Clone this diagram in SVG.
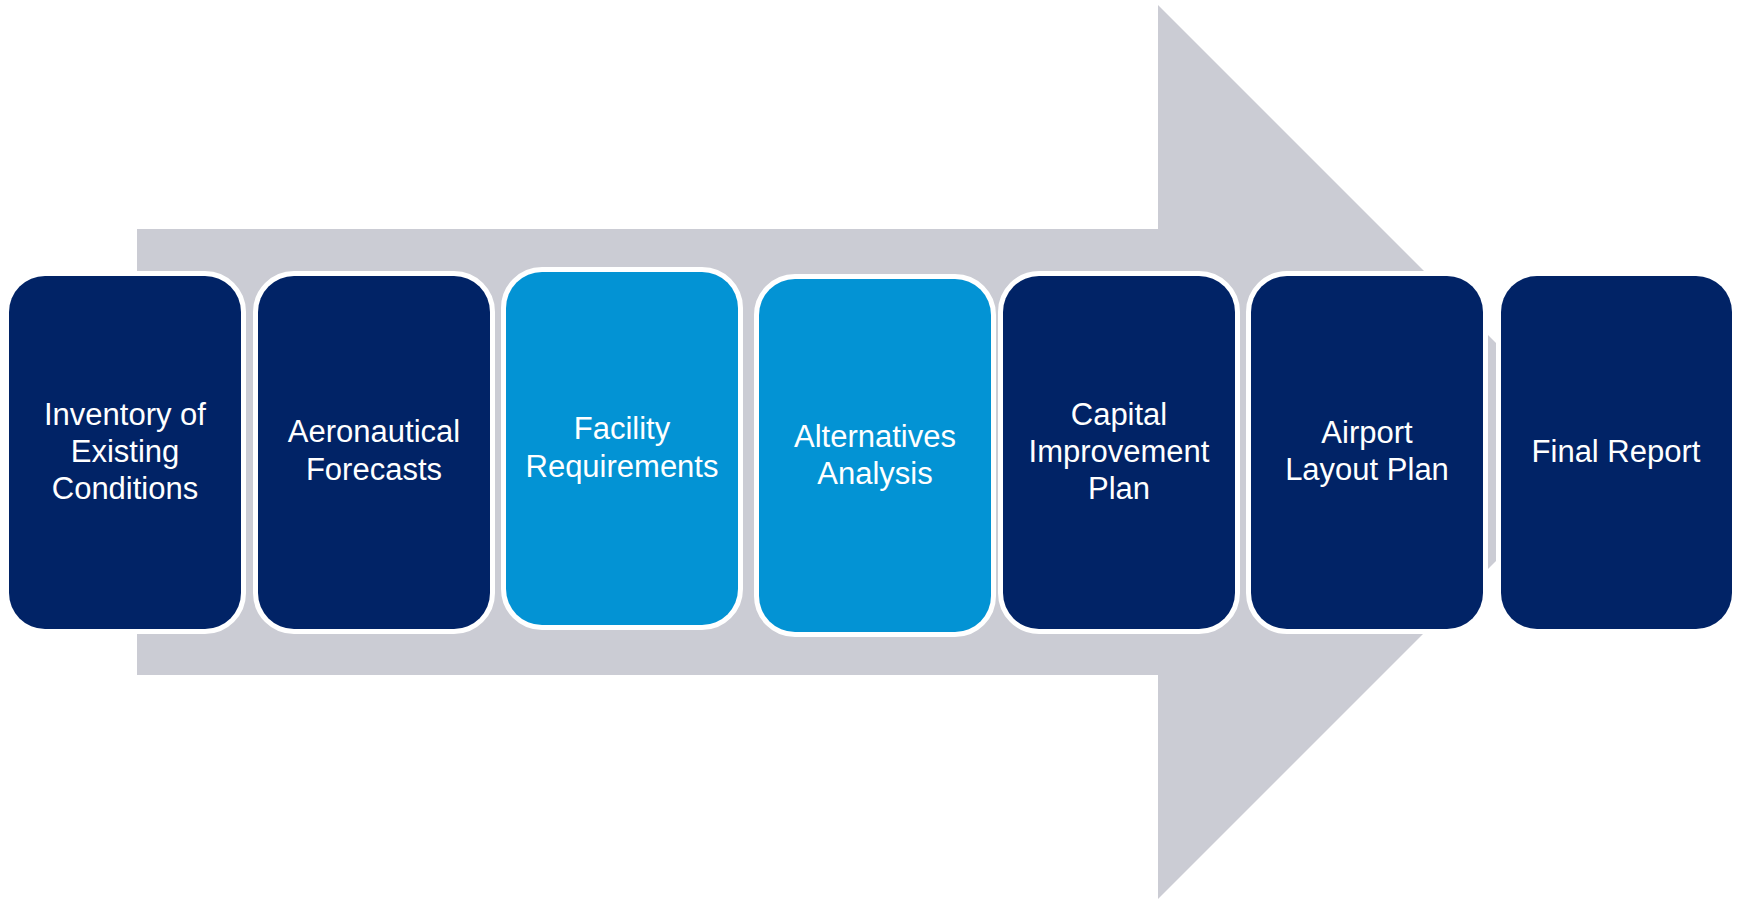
<svg xmlns="http://www.w3.org/2000/svg" width="1739" height="900" viewBox="0 0 1739 900">
<style>
.box{stroke:#FFFFFF;stroke-width:10;paint-order:stroke}
.navy{fill:#012366}
.blue{fill:#0393D4}
text{font-family:"Liberation Sans",Arial,sans-serif;font-size:31px;fill:#FFFFFF;text-anchor:middle}
</style>
<rect width="1739" height="900" fill="#FFFFFF"/>
<g id="connectors">
<polygon id="arrow" points="137,229 1158,229 1158,5 1605,452 1158,899 1158,675 137,675" fill="#CBCCD4"/>
</g>
<g id="n1">
<rect class="box navy" x="9" y="276" width="232" height="353" rx="36"/>
<text x="125" y="425">Inventory of</text>
<text x="125" y="462">Existing</text>
<text x="125" y="499">Conditions</text>
</g>
<g id="n2">
<rect class="box navy" x="258" y="276" width="232" height="353" rx="36"/>
<text x="374" y="442">Aeronautical</text>
<text x="374" y="480">Forecasts</text>
</g>
<g id="n3">
<rect class="box blue" x="506" y="272" width="232" height="353" rx="36"/>
<text x="622" y="439">Facility</text>
<text x="622" y="477">Requirements</text>
</g>
<g id="n4">
<rect class="box blue" x="759" y="279" width="232" height="353" rx="36"/>
<text x="875" y="447">Alternatives</text>
<text x="875" y="484">Analysis</text>
</g>
<g id="n5">
<rect class="box navy" x="1003" y="276" width="232" height="353" rx="36"/>
<text x="1119" y="425">Capital</text>
<text x="1119" y="462">Improvement</text>
<text x="1119" y="499">Plan</text>
</g>
<g id="n6">
<rect class="box navy" x="1251" y="276" width="232" height="353" rx="36"/>
<text x="1367" y="443">Airport</text>
<text x="1367" y="480">Layout Plan</text>
</g>
<g id="n7">
<rect class="box navy" x="1501" y="276" width="231" height="353" rx="36"/>
<text x="1616" y="462">Final Report</text>
</g>
</svg>
